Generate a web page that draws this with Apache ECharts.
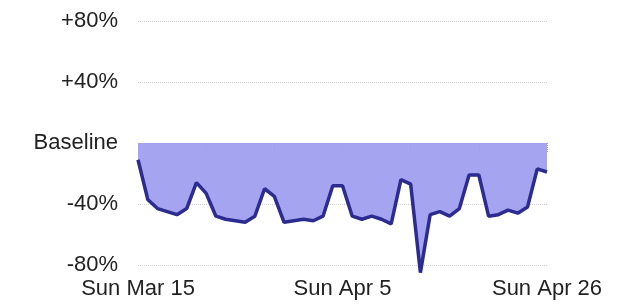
<!DOCTYPE html>
<html>
<head>
<meta charset="utf-8">
<script src="https://cdn.jsdelivr.net/npm/echarts@6/dist/echarts.min.js"></script>
<style>
  html, body { margin: 0; padding: 0; background: #fff; }
  #chart { width: 618px; height: 306px; }
</style>
</head>
<body>
<div id="chart"></div>
<script>
// days shown on the x axis (one point per day)
var days = [
  'Sun Mar 15', 'Mon Mar 16', 'Tue Mar 17', 'Wed Mar 18', 'Thu Mar 19', 'Fri Mar 20', 'Sat Mar 21',
  'Sun Mar 22', 'Mon Mar 23', 'Tue Mar 24', 'Wed Mar 25', 'Thu Mar 26', 'Fri Mar 27', 'Sat Mar 28',
  'Sun Mar 29', 'Mon Mar 30', 'Tue Mar 31', 'Wed Apr 1', 'Thu Apr 2', 'Fri Apr 3', 'Sat Apr 4',
  'Sun Apr 5', 'Mon Apr 6', 'Tue Apr 7', 'Wed Apr 8', 'Thu Apr 9', 'Fri Apr 10', 'Sat Apr 11',
  'Sun Apr 12', 'Mon Apr 13', 'Tue Apr 14', 'Wed Apr 15', 'Thu Apr 16', 'Fri Apr 17', 'Sat Apr 18',
  'Sun Apr 19', 'Mon Apr 20', 'Tue Apr 21', 'Wed Apr 22', 'Thu Apr 23', 'Fri Apr 24', 'Sat Apr 25',
  'Sun Apr 26'
];
// change from baseline, in percent
var change = [
  -11, -37, -43, -45, -47, -43, -26,
  -33, -48, -50, -51, -52, -48, -30,
  -35, -52, -51, -50, -51, -48, -28,
  -28, -48, -50, -48, -50, -53, -24,
  -27, -85, -47, -45, -48, -43, -21,
  -21, -48, -47, -44, -46, -42, -17,
  -19
];
var yTicks = [-80, -40, 0, 40, 80];
var yTickText = ['-80%', '-40%', 'Baseline', '+40%', '+80%'];

var labelFont = { fontFamily: 'Liberation Sans', fontSize: 22, color: '#222' };

var chart = echarts.init(document.getElementById('chart'));
chart.setOption({
  animation: false,
  grid: { left: 138, right: 71, top: 21, bottom: 41 },
  xAxis: {
    type: 'category',
    data: days,
    boundaryGap: false,
    axisLine: { lineStyle: { color: '#c4c4cc', type: 'dotted', width: 1 } },
    axisTick: { interval: 6, length: 10, lineStyle: { color: '#9aa0c8', type: 'dotted', width: 1 } },
    axisLabel: Object.assign({ interval: 20, margin: 13, showMaxLabel: true }, labelFont),
    splitLine: { show: false }
  },
  yAxis: {
    type: 'value',
    min: -80,
    max: 80,
    interval: 40,
    axisLine: { show: false },
    axisTick: { show: false },
    axisLabel: Object.assign({
      margin: 20,
      formatter: function (v) {
        var i = yTicks.indexOf(v);
        return i >= 0 ? yTickText[i] : '';
      }
    }, labelFont),
    splitLine: { lineStyle: { color: '#d0d0d8', type: 'dotted', width: 1 } }
  },
  series: [{
    type: 'line',
    data: change,
    symbol: 'none',
    clip: false,
    lineStyle: { color: '#2b2b90', width: 3.5 },
    areaStyle: { color: '#a09ff0', opacity: 0.95 },
    z: 3
  }]
});
</script>
</body>
</html>
